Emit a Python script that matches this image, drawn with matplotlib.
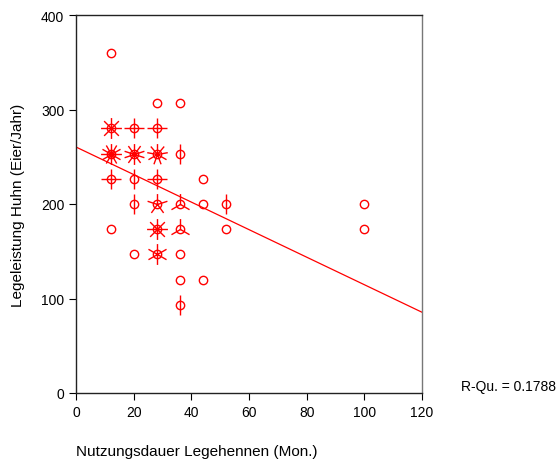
import matplotlib

matplotlib.use("Agg")
import matplotlib.pyplot as plt
import numpy as np
from matplotlib.path import Path

plt.rcParams["font.family"] = ["Liberation Sans", "DejaVu Sans"]

# sunflower data: position and number of petals (0 = plain circle)
x_vals = [12, 28, 36,
          12, 20, 28,
          12, 20, 28, 36,
          12, 20, 28, 44,
          20, 28, 36, 44, 52, 100,
          12, 28, 36, 52, 100,
          20, 28, 36,
          36, 44,
          36]
y_vals = [360.0, 306.7, 306.7,
          280.0, 280.0, 280.0,
          253.3, 253.3, 253.3, 253.3,
          226.7, 226.7, 226.7, 226.7,
          200.0, 200.0, 200.0, 200.0, 200.0, 200.0,
          173.3, 173.3, 173.3, 173.3, 173.3,
          146.7, 146.7, 146.7,
          120.0, 120.0,
          93.3]
petals = [0, 0, 0,
          8, 4, 4,
          12, 10, 9, 2,
          4, 2, 4, 0,
          2, 5, 3, 0, 2, 0,
          0, 8, 3, 0, 0,
          0, 6, 0,
          0, 0,
          2]

intercept = 260.3
slope = -1.457
r_sq = 0.1788

RED = "#ff0000"


def petal_marker(n):
    verts, codes = [], []
    for k in range(n):
        a = np.pi / 2 + 2 * np.pi * k / n
        verts += [(0, 0), (np.cos(a), np.sin(a))]
        codes += [Path.MOVETO, Path.LINETO]
    return Path(verts, codes)


fig = plt.figure(figsize=(5.6, 4.64), dpi=100)
ax = fig.add_axes([76 / 560, 70 / 464, 346 / 560, 378 / 464])

for x, y, n in zip(x_vals, y_vals, petals):
    if n > 0:
        ax.plot([x], [y], marker=petal_marker(n), markersize=15, color=RED,
                markeredgewidth=1.0, linestyle="none")
    ax.plot([x], [y], marker="o", markersize=6, markerfacecolor="none",
            markeredgecolor=RED, markeredgewidth=1.0, linestyle="none")

xl = np.array([0, 120])
ax.plot(xl, intercept + slope * xl, color=RED, linewidth=0.9)

ax.set_xlim(0, 120)
ax.set_ylim(0, 400)
ax.set_xticks(np.arange(0, 121, 20))
ax.set_yticks(np.arange(0, 401, 100))
ax.tick_params(direction="out", length=5, width=0.8, labelsize=10, colors="black")
for s in ax.spines.values():
    s.set_linewidth(1.0)
    s.set_color("#222222")
ax.spines["right"].set_color("#777777")

fig.text(18 / 560, 1 - 205 / 464, "Legeleistung Huhn (Eier/Jahr)", rotation=90,
         ha="center", va="center", fontsize=11)
fig.text(76 / 560, 1 - 452 / 464, "Nutzungsdauer Legehennen (Mon.)",
         ha="left", va="center", fontsize=11)
fig.text(556 / 560, 1 - 387 / 464, f"R-Qu. = {r_sq:.4f}",
         ha="right", va="center", fontsize=10)

fig.savefig("out.png", dpi=100, facecolor="white")
